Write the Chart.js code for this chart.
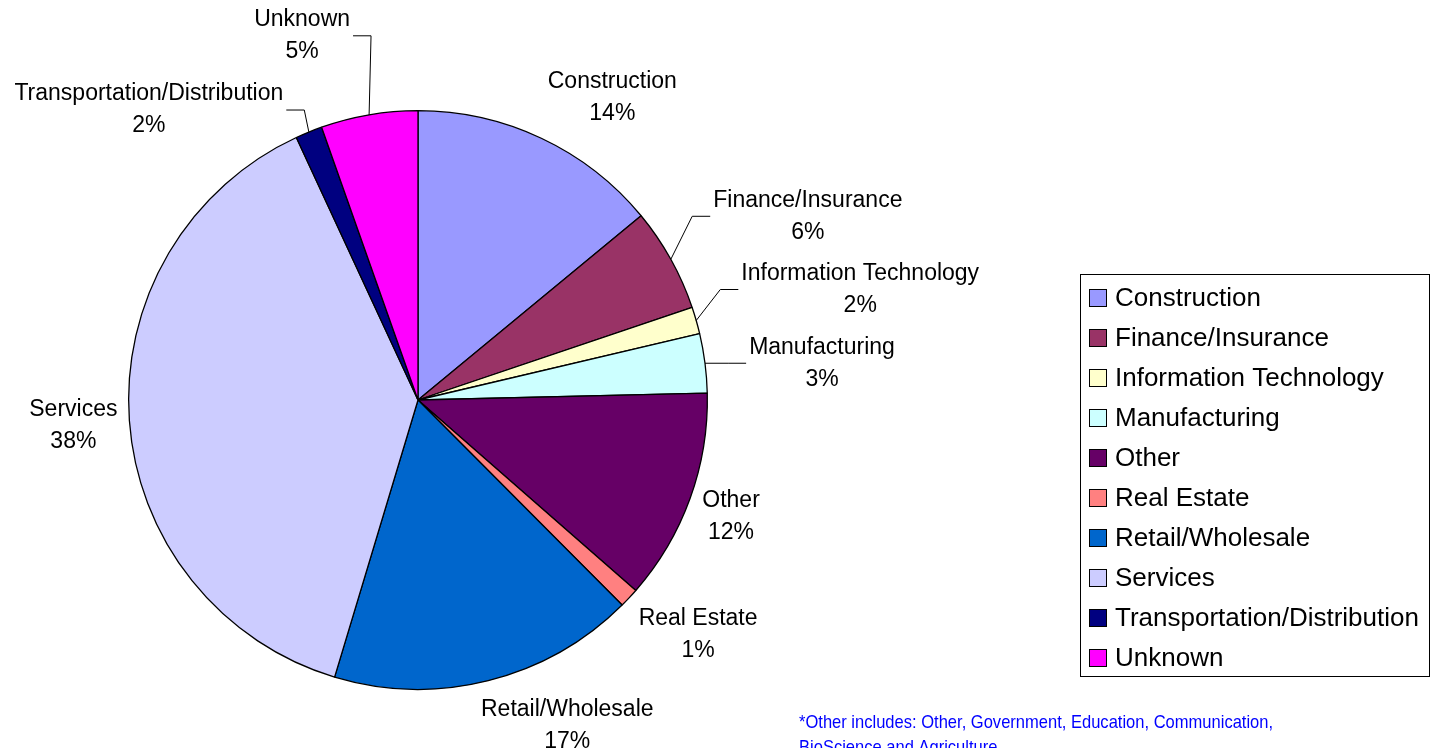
<!DOCTYPE html>
<html>
<head>
<meta charset="utf-8">
<script src="https://cdn.jsdelivr.net/npm/chart.js@4.4.0/dist/chart.umd.min.js"></script>
<style>
  html, body { margin: 0; padding: 0; background: #fff; overflow: hidden; }
  #wrap { position: relative; width: 1436px; height: 748px; }
</style>
</head>
<body>
<div id="wrap"><canvas id="c" width="1436" height="748"></canvas></div>
<script>
// data (percent of total)
const categories = ['Construction', 'Finance/Insurance', 'Information Technology', 'Manufacturing', 'Other',
  'Real Estate', 'Retail/Wholesale', 'Services', 'Transportation/Distribution', 'Unknown'];
const shares = [14.0, 5.8, 1.5, 3.3, 11.8, 1.1, 17.1, 38.4, 1.5, 5.4];
const sliceColors = ['#9999FF', '#993366', '#FFFFCC', '#CCFFFF', '#660066',
  '#FF8080', '#0066CC', '#CCCCFF', '#000080', '#FF00FF'];
const footnoteLines = ['*Other includes: Other, Government, Education, Communication,',
  'BioScience and Agriculture'];

// where each label sits, relative to the rim point at the slice's middle angle
const labelOffsets = [[71, -41], [137, -43], [164, -31], [117, 0], [41, 18],
  [69, 37], [79, 45], [-56, 5], [-160, -22], [-67, -79]];
const hasLeader = [false, true, true, true, false, false, false, false, true, true];

const FONT = '"Liberation Sans", Arial, sans-serif';

const sliceLabels = {
  id: 'sliceLabels',
  afterDatasetsDraw(chart) {
    const ctx = chart.ctx;
    const meta = chart.getDatasetMeta(0);
    const total = shares.reduce((a, b) => a + b, 0);
    ctx.save();
    ctx.font = '23px ' + FONT;
    ctx.fillStyle = '#000';
    ctx.strokeStyle = '#000';
    ctx.lineWidth = 1;
    ctx.textAlign = 'center';
    ctx.textBaseline = 'middle';
    meta.data.forEach((arc, i) => {
      const p = arc.getProps(['x', 'y', 'startAngle', 'endAngle', 'outerRadius'], true);
      const mid = (p.startAngle + p.endAngle) / 2;
      const ex = p.x + Math.cos(mid) * p.outerRadius;
      const ey = p.y + Math.sin(mid) * p.outerRadius;
      const cx = ex + labelOffsets[i][0];
      const cy = ey + labelOffsets[i][1];
      const lines = [categories[i], Math.round(shares[i] / total * 100) + '%'];
      ctx.fillText(lines[0], cx, cy - 16);
      ctx.fillText(lines[1], cx, cy + 16);
      if (hasLeader[i]) {
        const w = Math.max(...lines.map(t => ctx.measureText(t).width));
        const side = labelOffsets[i][0] > 0 ? 1 : -1;
        const endX = cx - side * (w / 2 + 3);
        const elbowX = endX - side * 18;
        ctx.beginPath();
        ctx.moveTo(ex, ey);
        ctx.lineTo(elbowX, cy);
        ctx.lineTo(endX, cy);
        ctx.stroke();
      }
    });
    ctx.restore();
  }
};

const boxLegend = {
  id: 'boxLegend',
  afterDraw(chart) {
    const ctx = chart.ctx;
    ctx.save();
    ctx.strokeStyle = '#000';
    ctx.lineWidth = 1;
    ctx.strokeRect(1080.5, 274.5, 349, 402);
    ctx.font = '26px ' + FONT;
    ctx.textAlign = 'left';
    ctx.textBaseline = 'middle';
    categories.forEach((name, i) => {
      const yc = 298 + i * 40;
      ctx.fillStyle = sliceColors[i];
      ctx.fillRect(1089, yc - 9, 18, 18);
      ctx.strokeRect(1089.5, yc - 8.5, 17, 17);
      ctx.fillStyle = '#000';
      ctx.fillText(name, 1115, yc + 1);
    });
    // footnote, a bit narrower than the stock font
    ctx.fillStyle = '#0000FF';
    ctx.font = '19px ' + FONT;
    footnoteLines.forEach((t, i) => {
      ctx.save();
      ctx.translate(799, 723 + i * 25);
      ctx.scale(0.87, 1);
      ctx.fillText(t, 0, 0);
      ctx.restore();
    });
    ctx.restore();
  }
};

new Chart(document.getElementById('c'), {
  type: 'pie',
  data: {
    labels: categories,
    datasets: [{
      data: shares,
      backgroundColor: sliceColors,
      borderColor: '#000',
      borderWidth: 1.3,
      borderAlign: 'center'
    }]
  },
  options: {
    responsive: false,
    animation: false,
    layout: { padding: { left: 128, top: 110, right: 728, bottom: 58 } },
    plugins: {
      legend: { display: false },
      tooltip: { enabled: false }
    }
  },
  plugins: [sliceLabels, boxLegend]
});
</script>
</body>
</html>
